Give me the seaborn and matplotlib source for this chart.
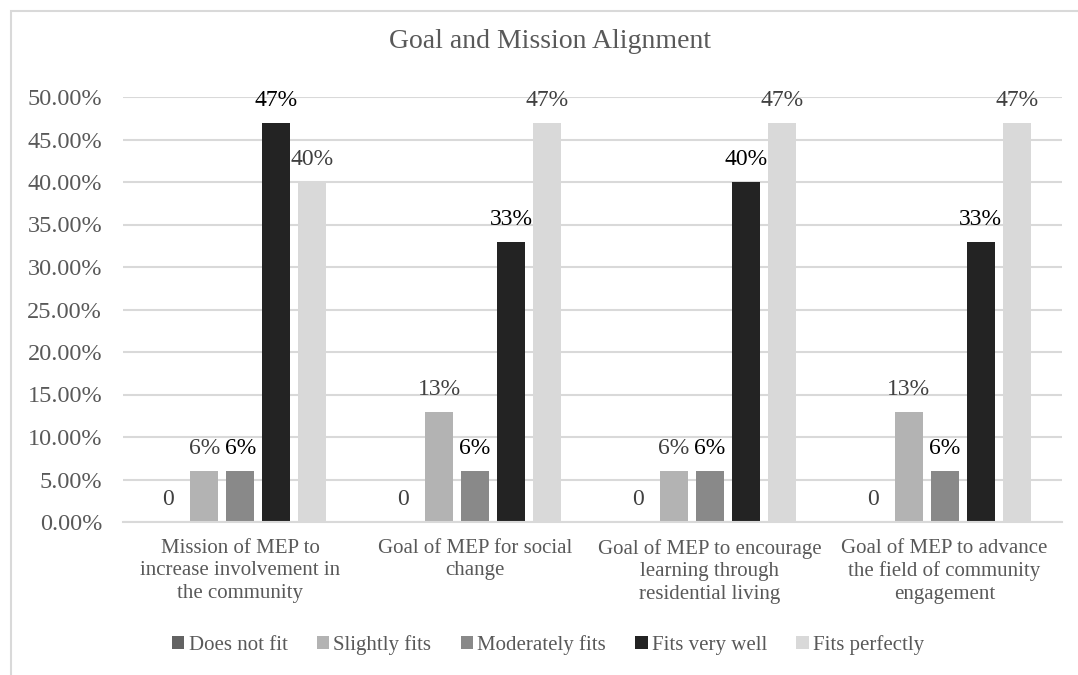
import matplotlib
matplotlib.use("Agg")
import matplotlib.pyplot as plt
import seaborn as sns
import pandas as pd
from matplotlib.patches import Rectangle

categories = [
    "Mission of MEP to\nincrease involvement in\nthe community",
    "Goal of MEP for social\nchange",
    "Goal of MEP to encourage\nlearning through\nresidential living",
    "Goal of MEP to advance\nthe field of community\nengagement",
]
series = ["Does not fit", "Slightly fits", "Moderately fits", "Fits very well", "Fits perfectly"]
does_not_fit = [0, 0, 0, 0]
slightly_fits = [6, 13, 6, 13]
moderately_fits = [6, 6, 6, 6]
fits_very_well = [47, 33, 40, 33]
fits_perfectly = [40, 47, 47, 47]
value_labels = {
    "Does not fit": ["0", "0", "0", "0"],
    "Slightly fits": ["6%", "13%", "6%", "13%"],
    "Moderately fits": ["6%", "6%", "6%", "6%"],
    "Fits very well": ["47%", "33%", "40%", "33%"],
    "Fits perfectly": ["40%", "47%", "47%", "47%"],
}
yticks = [0, 5, 10, 15, 20, 25, 30, 35, 40, 45, 50]

colors = ["#636363", "#b3b3b3", "#898989", "#232323", "#d9d9d9"]
label_colors = ["#404040", "#404040", "#000000", "#000000", "#404040"]

rows = []
for s, vals in zip(series, [does_not_fit, slightly_fits, moderately_fits, fits_very_well, fits_perfectly]):
    for c, v in zip(categories, vals):
        rows.append({"category": c, "series": s, "value": v})
df = pd.DataFrame(rows)

sns.set_theme(style="white")
plt.rcParams["font.family"] = ["Liberation Serif", "DejaVu Serif"]

fig = plt.figure(figsize=(10.78, 6.75), dpi=100)
ax = fig.add_axes([123 / 1078, 1 - 522 / 675, (1062 - 123) / 1078, (522 - 97) / 675])

sns.barplot(data=df, x="category", y="value", hue="series", palette=colors,
            order=categories, hue_order=series, width=0.767, gap=0.22,
            saturation=1, errorbar=None, ax=ax, linewidth=0)

for cont, s, lc in zip(ax.containers, series, label_colors):
    ax.bar_label(cont, labels=value_labels[s], padding=8.5, color=lc, fontsize=17)

ax.set_ylim(0, 50)
ax.set_xlim(-0.5, len(categories) - 0.5)
ax.set_yticks(yticks)
ax.set_yticklabels([f"{t:.2f}%" for t in yticks])
ax.yaxis.grid(True, color="#d9d9d9", linewidth=1.5)
ax.set_axisbelow(True)
for side in ["left", "right", "top"]:
    ax.spines[side].set_visible(False)
ax.spines["bottom"].set_color("#d9d9d9")
ax.spines["bottom"].set_linewidth(1.5)
ax.tick_params(axis="y", length=0, pad=15, labelsize=17.5, labelcolor="#595959")
ax.tick_params(axis="x", length=0, pad=12, labelsize=15, labelcolor="#595959")
for t in ax.get_xticklabels():
    t.set_linespacing(1.25)
ax.set_xlabel("")
ax.set_ylabel("")

handles, labels = ax.get_legend_handles_labels()
if ax.legend_:
    ax.legend_.remove()
fig.legend(handles, labels, loc="center", bbox_to_anchor=(548 / 1078, 1 - 645 / 675),
           ncol=5, frameon=False, fontsize=15, labelcolor="#595959",
           handlelength=0.6, handleheight=0.6, handletextpad=0.2, columnspacing=1.4)

fig.text(550 / 1078, 1 - 42 / 675, "Goal and Mission Alignment", ha="center", va="center",
         fontsize=20, color="#595959")

fig.patches.append(Rectangle((11 / 1078, -0.1), 1.2, 1 - 11 / 675 + 0.1, transform=fig.transFigure,
                             fill=False, edgecolor="#d9d9d9", linewidth=1.5))

fig.savefig("out.png", dpi=100)
